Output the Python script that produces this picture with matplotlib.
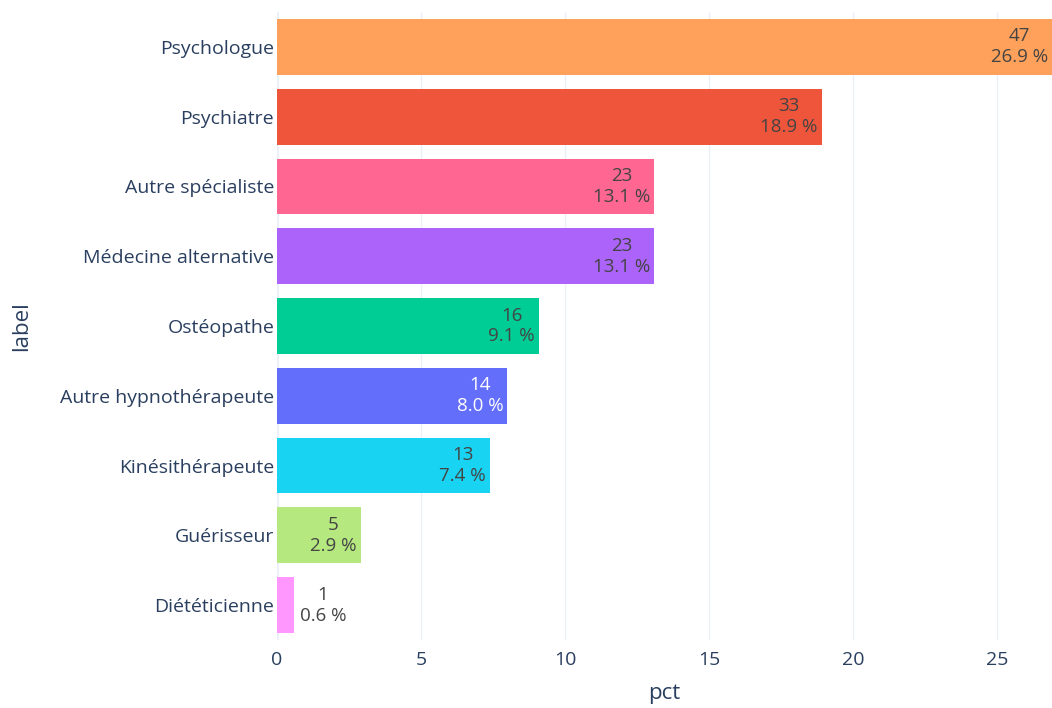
import numpy as np
import matplotlib
matplotlib.use("Agg")
from matplotlib import pyplot as plt

labels = ["Psychologue", "Psychiatre", "Autre spécialiste", "Médecine alternative",
          "Ostéopathe", "Autre hypnothérapeute", "Kinésithérapeute", "Guérisseur",
          "Diététicienne"]
counts = [47, 33, 23, 23, 16, 14, 13, 5, 1]
pct = [26.9, 18.9, 13.1, 13.1, 9.1, 8.0, 7.4, 2.9, 0.6]
colors = ["#FFA15A", "#EF553B", "#FF6692", "#AB63FA", "#00CC96",
          "#636EFA", "#19D3F3", "#B6E880", "#FF97FF"]
text_colors = ["#444444"] * 5 + ["white"] + ["#444444"] * 3

plt.rcParams["font.family"] = ["Open Sans", "DejaVu Sans"]

fig = plt.figure(figsize=(10.52, 7.08), dpi=100)
ax = fig.add_axes([277 / 1052, 68 / 708, 1 - 277 / 1052, (640 - 12) / 708])

y = np.arange(len(labels))
ax.barh(y, pct, height=0.8, color=colors, zorder=2)

for i in range(len(labels)):
    txt = "%d\n%.1f %%" % (counts[i], pct[i])
    if pct[i] > 2:
        # text inside the bar, right aligned
        ax.annotate(txt, xy=(pct[i], y[i]), xytext=(-3, 0), textcoords="offset points",
                    ha="right", va="center", multialignment="center",
                    fontsize=13.5, color=text_colors[i], linespacing=1.2)
    else:
        ax.annotate(txt, xy=(pct[i], y[i]), xytext=(4, 0), textcoords="offset points",
                    ha="left", va="center", multialignment="center",
                    fontsize=13.5, color="#444444", linespacing=1.2)

ax.set_yticks(y)
ax.set_yticklabels(labels)
ax.set_ylim(len(labels) - 0.5, -0.5)
ax.set_xlim(0, max(pct))
ax.set_xticks([0, 5, 10, 15, 20, 25])

ax.grid(axis="x", color="#EBF0F8", linewidth=1, zorder=0)
ax.axvline(0, color="#EBF0F8", linewidth=2, zorder=1)
for s in ax.spines.values():
    s.set_visible(False)
ax.tick_params(length=0, labelsize=14, labelcolor="#2a3f5f")
ax.tick_params(axis="y", pad=2)
ax.tick_params(axis="x", pad=8)

ax.set_xlabel("pct", fontsize=16, color="#2a3f5f", labelpad=10)
ax.set_ylabel("label", fontsize=16, color="#2a3f5f", labelpad=20)

fig.savefig("out.png", dpi=100)
